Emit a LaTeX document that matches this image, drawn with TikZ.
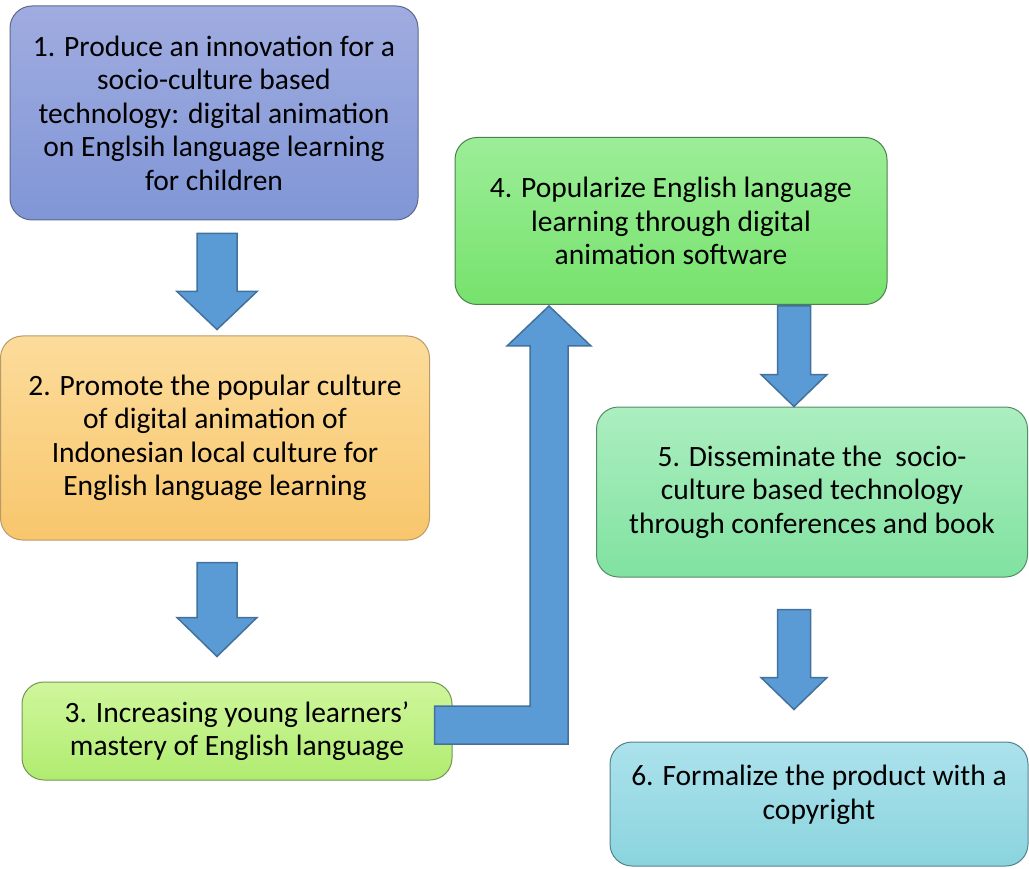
\documentclass[tikz,border=0pt]{standalone}
\usepackage{fontspec}
\setmainfont{Carlito}
\usetikzlibrary{calc}

\definecolor{blueTop}{RGB}{160,172,224}
\definecolor{blueBot}{RGB}{128,150,214}
\definecolor{blueEdge}{RGB}{95,105,135}
\definecolor{orangeTop}{RGB}{252,220,155}
\definecolor{orangeBot}{RGB}{248,198,108}
\definecolor{orangeEdge}{RGB}{185,155,105}
\definecolor{limeTop}{RGB}{208,246,156}
\definecolor{limeBot}{RGB}{176,236,112}
\definecolor{limeEdge}{RGB}{115,150,85}
\definecolor{greenTop}{RGB}{156,238,152}
\definecolor{greenBot}{RGB}{118,226,108}
\definecolor{greenEdge}{RGB}{75,130,75}
\definecolor{mintTop}{RGB}{172,238,192}
\definecolor{mintBot}{RGB}{128,226,160}
\definecolor{mintEdge}{RGB}{85,140,105}
\definecolor{cyanTop}{RGB}{172,226,236}
\definecolor{cyanBot}{RGB}{138,212,222}
\definecolor{cyanEdge}{RGB}{85,130,140}
\definecolor{arrowFill}{RGB}{91,155,213}
\definecolor{arrowEdge}{RGB}{65,113,156}

\tikzset{
  stepbox/.style={draw, line width=1pt, rounded corners=22pt, align=center,
    inner sep=0pt, font=\fontsize{29.5}{33.5}\selectfont},
  blockarrow/.style={draw=arrowEdge, fill=arrowFill, line width=1.5pt, line join=miter},
}

% down block arrow: #1 top centre, #2 tip, #3 half shaft, #4 half head, #5 head length
\newcommand{\downblock}[5]{%
  \draw[blockarrow] let \p1=(#1), \p2=(#2) in
    (\x1-#3pt,\y1) -- (\x1+#3pt,\y1) -- (\x1+#3pt,\y2+#5pt) -- (\x1+#4pt,\y2+#5pt)
    -- (\x1,\y2) -- (\x1-#4pt,\y2+#5pt) -- (\x1-#3pt,\y2+#5pt) -- cycle;}

\begin{document}
\begin{tikzpicture}[x=1pt, y=-1pt]
  \useasboundingbox (0,0) rectangle (1029,869);

  % --- Left column ---
  \node[stepbox, draw=blueEdge, top color=blueTop, bottom color=blueBot,
    minimum width=408pt, minimum height=214pt] (b1) at (214,113)
    {1. Produce an innovation for a\\socio-culture based\\technology: digital animation\\on Englsih language learning\\for children};
  \node[stepbox, draw=orangeEdge, top color=orangeTop, bottom color=orangeBot,
    minimum width=429pt, minimum height=204pt] (b2) at (215,438)
    {2. Promote the popular culture\\of digital animation of\\Indonesian local culture for\\English language learning};
  \node[stepbox, draw=limeEdge, top color=limeTop, bottom color=limeBot,
    minimum width=430pt, minimum height=98pt] (b3) at (237,731)
    {3. Increasing young learners'\\mastery of English language};

  % --- Right column ---
  \node[stepbox, draw=greenEdge, top color=greenTop, bottom color=greenBot,
    minimum width=432pt, minimum height=167pt] (b4) at (671,221)
    {4. Popularize English language\\learning through digital\\animation software};
  \node[stepbox, draw=mintEdge, top color=mintTop, bottom color=mintBot,
    minimum width=431pt, minimum height=170pt] (b5) at (812,492)
    {5. Disseminate the~ socio-\\culture based technology\\through conferences and book};
  \node[stepbox, draw=cyanEdge, top color=cyanTop, bottom color=cyanBot,
    minimum width=418pt, minimum height=124pt, text depth=23pt] (b6) at (819,804)
    {6. Formalize the product with a\\copyright};

  % --- Block arrows ---
  \coordinate (a1) at ($(b1.south)+(3,13)$);
  \coordinate (a1t) at ($(b2.north)+(2,-6)$);
  \downblock{a1}{a1t}{20}{40}{38}
  \coordinate (a2) at ($(b2.south)+(2,22)$);
  \coordinate (a2t) at ($(b3.north)+(0,-25)$);
  \downblock{a2}{a2t}{20}{40}{39}
  \coordinate (a4) at ($(b4.south)+(123,1)$);
  \coordinate (a4t) at (b5.north);
  \downblock{a4}{a4t}{16.5}{33}{32}
  \coordinate (a5) at ($(b5.south)+(-18,32)$);
  \coordinate (a5t) at ($(b6.north)+(0,-32)$);
  \downblock{a5}{a5t}{16.5}{33}{32}

  % elbow arrow from step 3 up to step 4
  \coordinate (l3) at ($(b3.east)+(-18,-6)$);
  \coordinate (l4) at ($(b4.south)+(-122,1)$);
  \draw[blockarrow] let \p1=(l3), \p2=(l4) in
    (\x1,\y1+19pt) -- (\x2-19pt,\y1+19pt) -- (\x2-19pt,\y2-40pt) -- (\x2-42pt,\y2-40pt)
    -- (\x2,\y2) -- (\x2+42pt,\y2-40pt) -- (\x2+19pt,\y2-40pt) -- (\x2+19pt,\y1-19pt)
    -- (\x1,\y1-19pt) -- cycle;
\end{tikzpicture}
\end{document}
